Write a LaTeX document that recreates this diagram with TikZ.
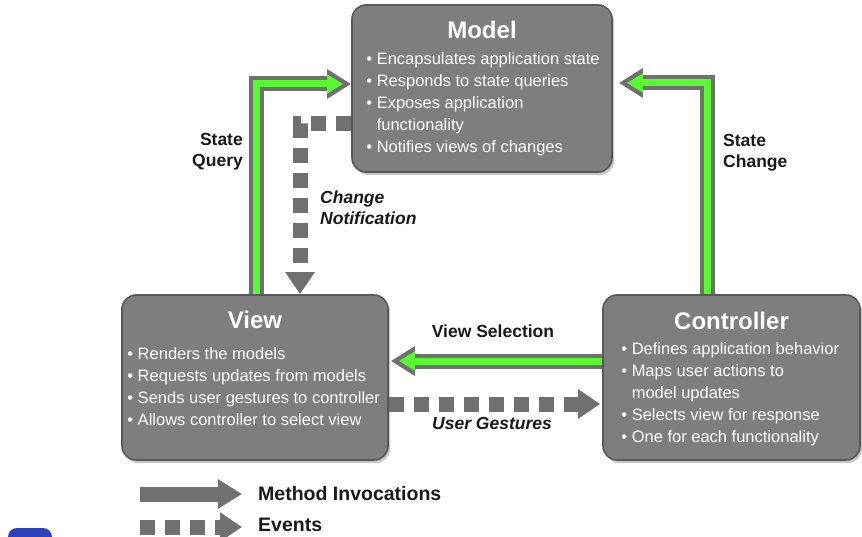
\documentclass[tikz,border=0pt]{standalone}
\usepackage{fontspec}
\setmainfont{Liberation Sans}
\usetikzlibrary{arrows.meta, positioning, shadows}

\definecolor{boxgray}{RGB}{126,126,126}
\definecolor{boxedge}{RGB}{88,88,88}
\definecolor{arrowgray}{RGB}{112,112,112}
\definecolor{callgreen}{RGB}{88,250,50}
\definecolor{labelblack}{RGB}{25,25,25}
\definecolor{logoblue}{RGB}{45,65,185}

\tikzset{
  mvcbox/.style={rectangle, rounded corners=14pt, draw=boxedge, line width=1.6pt,
    fill=boxgray, inner sep=0pt,
    drop shadow={shadow xshift=2pt, shadow yshift=-3pt, opacity=0.45}},
  boxtitle/.style={text=white, inner sep=0pt, font=\fontsize{24}{28}\selectfont\bfseries},
  boxbody/.style={text=white, inner sep=0pt, align=left, font=\fontsize{16.5}{22}\selectfont},
  flowlabel/.style={text=labelblack, inner sep=0pt, font=\fontsize{17.5}{21}\selectfont\bfseries},
  legendtext/.style={text=labelblack, inner sep=0pt, anchor=west, font=\fontsize{19.5}{23}\selectfont\bfseries},
  invoke/.style={draw=arrowgray, line width=15pt, -{Triangle[length=24pt, width=28pt]}},
  invoke green/.style={draw=callgreen, line width=7pt, shorten >=8pt, -{Triangle[length=16pt, width=18pt]}},
  event/.style={draw=arrowgray, line width=15pt, dash pattern=on 15pt off 10pt, -{Triangle[length=22pt, width=28pt]}}
}

\begin{document}
\begin{tikzpicture}[x=1pt, y=-1pt]
  \useasboundingbox (0,0) rectangle (862,537);

  % the three parts
  \node[mvcbox, minimum width=260pt, minimum height=167pt] (model) at (482,88.5) {};
  \node[mvcbox, minimum width=266pt, minimum height=165pt] (view) at (255,377.5) {};
  \node[mvcbox, minimum width=257pt, minimum height=165pt] (controller) at (731.5,377.5) {};

  \node[boxtitle, below=17pt of model.north] (model title) {Model};
  \node[boxbody, below right=48pt and 15pt of model.north west] (model body)
    {• Encapsulates application state\\
     • Responds to state queries\\
     • Exposes application\\
     \phantom{• }functionality\\
     • Notifies views of changes};

  \node[boxtitle, below=17pt of view.north] (view title) {View};
  \node[boxbody, below right=53pt and 6pt of view.north west] (view body)
    {• Renders the models\\
     • Requests updates from models\\
     • Sends user gestures to controller\\
     • Allows controller to select view};

  \node[boxtitle, below=18pt of controller.north] (controller title) {Controller};
  \node[boxbody, below right=48pt and 19pt of controller.north west] (controller body)
    {• Defines application behavior\\
     • Maps user actions to\\
     \phantom{• }model updates\\
     • Selects view for response\\
     • One for each functionality};

  % method invocations
  \coordinate (query corner) at (256,84);
  \coordinate (change corner) at (707,83);
  \coordinate (select level) at (0,361);
  \draw[invoke] (view.north -| query corner) |- (model.west |- query corner);
  \draw[invoke green] (view.north -| query corner) |- (model.west |- query corner);
  \draw[invoke] (controller.north -| change corner) |- ([xshift=6pt]model.east |- change corner);
  \draw[invoke green] (controller.north -| change corner) |- ([xshift=6pt]model.east |- change corner);
  \draw[invoke] (controller.west |- select level) -- ([xshift=2pt]view.east |- select level);
  \draw[invoke green] (controller.west |- select level) -- ([xshift=2pt]view.east |- select level);

  % events
  \coordinate (notify corner) at (300,124);
  \coordinate (gesture level) at (0,404);
  \draw[event] (model.west |- notify corner) -| (view.north -| notify corner);
  \draw[event] (view.east |- gesture level) -- ([xshift=-2pt]controller.west |- gesture level);

  % connector labels
  \node[flowlabel, align=right, anchor=east] (query label) at (243,152) {State\\Query};
  \node[flowlabel, align=left, anchor=west] (change label) at (723,153) {State\\Change};
  \node[flowlabel, align=left, anchor=west, font=\fontsize{17.5}{21}\selectfont\bfseries\itshape]
    (notify label) at (320,208) {Change\\Notification};
  \node[flowlabel] (select label) at (493,331) {View Selection};
  \node[flowlabel, font=\fontsize{17.5}{21}\selectfont\bfseries\itshape] (gesture label) at (492,423) {User Gestures};

  % legend
  \node[legendtext] (invoke key) at (258,494) {Method Invocations};
  \node[legendtext] (event key) at (258,525) {Events};
  \draw[invoke] ([xshift=-118pt]invoke key.west) -- ([xshift=-16pt]invoke key.west);
  \draw[event] ([xshift=-118pt, yshift=-2pt]event key.west) -- ([xshift=-16pt, yshift=-2pt]event key.west);

  % corner of the logo
  \begin{scope}
    \clip (0,0) rectangle (862,537);
    \fill[logoblue, rounded corners=9pt] (8,528) rectangle (52,560);
  \end{scope}
\end{tikzpicture}
\end{document}
